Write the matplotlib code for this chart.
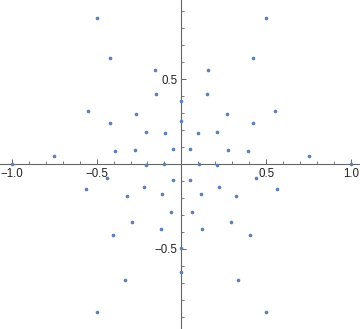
import matplotlib
matplotlib.use("Agg")
import matplotlib.pyplot as plt
import numpy as np
from matplotlib.ticker import MultipleLocator, FixedLocator

plt.rcParams["font.family"] = ["Liberation Sans", "DejaVu Sans"]

# point coordinates
x_pts = [
    -0.500, -0.421, -0.158, -0.152, -0.553, -0.270, -0.421, -0.211, -0.099,
    -0.753, -0.394, -0.276, -0.051,
    0.500, 0.421, 0.158, 0.152, 0.553, 0.270, 0.421, 0.211, 0.099,
    0.753, 0.394, 0.276, 0.051,
    0.0, 0.0,
    -1.0, -0.210, -0.104, -0.441, -0.051, -0.565, -0.222, -0.323, -0.116,
    -0.063, -0.293, -0.122, -0.405, -0.335, -0.500,
    1.0, 0.210, 0.104, 0.441, 0.051, 0.565, 0.222, 0.323, 0.116,
    0.063, 0.293, 0.122, 0.405, 0.335, 0.500,
    0.0, 0.0,
]
y_pts = [
    0.861, 0.625, 0.555, 0.414, 0.314, 0.296, 0.243, 0.190, 0.184,
    0.049, 0.078, 0.084, 0.090,
    0.861, 0.625, 0.555, 0.414, 0.314, 0.296, 0.243, 0.190, 0.184,
    0.049, 0.078, 0.084, 0.090,
    0.373, 0.254,
    0.0, -0.006, 0.0, -0.081, -0.092, -0.145, -0.134, -0.186, -0.175,
    -0.281, -0.339, -0.381, -0.416, -0.681, -0.869,
    0.0, -0.006, 0.0, -0.081, -0.092, -0.145, -0.134, -0.186, -0.175,
    -0.281, -0.339, -0.381, -0.416, -0.681, -0.869,
    -0.493, -0.634,
]

x_major = [-1.0, -0.5, 0.5, 1.0]
y_major = [-0.5, 0.5]

fig = plt.figure(figsize=(3.6, 3.29), dpi=100)
ax = fig.add_axes([0, 0, 1, 1])
ax.set_xlim(-1.070, 1.054)
ax.set_ylim(-0.971, 0.965)

axcol = "#666666"
for s in ["top", "right"]:
    ax.spines[s].set_visible(False)
ax.spines["left"].set_position("zero")
ax.spines["bottom"].set_position("zero")
for s in ["left", "bottom"]:
    ax.spines[s].set_color(axcol)
    ax.spines[s].set_linewidth(0.8)

fmt = plt.FuncFormatter(lambda v, p: f"{v:.1f}".replace("-", "\u2212"))
ax.xaxis.set_major_locator(FixedLocator(x_major))
ax.yaxis.set_major_locator(FixedLocator(y_major))
ax.xaxis.set_minor_locator(MultipleLocator(0.1))
ax.yaxis.set_minor_locator(MultipleLocator(0.1))
ax.xaxis.set_major_formatter(fmt)
ax.yaxis.set_major_formatter(fmt)
ax.tick_params(which="major", direction="in", length=3.6, width=0.7, color=axcol,
               labelsize=8.3, labelcolor="#222222", pad=3)
ax.tick_params(which="minor", direction="in", length=2.0, width=0.6, color=axcol)

ax.scatter(x_pts, y_pts, s=7, color="#5E81B5", zorder=3, linewidths=0)

fig.savefig("out.png", dpi=100)
